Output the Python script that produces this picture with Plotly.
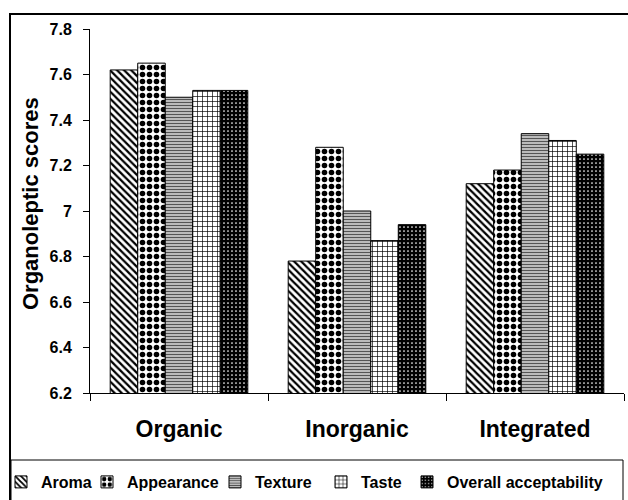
import plotly.graph_objects as go

categories = ["Organic", "Inorganic", "Integrated"]
series_names = ["Aroma", "Appearance", "Texture", "Taste", "Overall acceptability"]
aroma = [7.62, 6.78, 7.12]
appearance = [7.65, 7.28, 7.18]
texture = [7.50, 7.00, 7.34]
taste = [7.53, 6.87, 7.31]
overall = [7.53, 6.94, 7.25]
y_ticks = [6.2, 6.4, 6.6, 6.8, 7.0, 7.2, 7.4, 7.6, 7.8]
y_tick_labels = ["6.2", "6.4", "6.6", "6.8", "7", "7.2", "7.4", "7.6", "7.8"]

values = [aroma, appearance, texture, taste, overall]
patterns = [
    dict(shape="\\", fgcolor="black", bgcolor="white", size=5, solidity=0.45, fillmode="replace"),
    dict(shape=".", fgcolor="black", bgcolor="white", size=7, solidity=0.5, fillmode="replace"),
    dict(shape="-", fgcolor="#555555", bgcolor="#dddddd", size=3, solidity=0.5, fillmode="replace"),
    dict(shape="+", fgcolor="black", bgcolor="white", size=5, solidity=0.25, fillmode="replace"),
    dict(shape=".", fgcolor="white", bgcolor="black", size=4, solidity=0.15, fillmode="replace"),
]

FONT = "Liberation Sans, Arial, sans-serif"
W, H = 628, 500
L, R, T, B = 90, 4, 29, 107
pw, ph = W - L - R, H - T - B

def px_x(p):
    return (p - L) / pw

def px_y(p):
    return (H - B - p) / ph

legend_names = ["legend", "legend2", "legend3", "legend4", "legend5"]
legend_px = [1, 87, 215, 321, 407]

fig = go.Figure()
for i, (name, vals) in enumerate(zip(series_names, values)):
    fig.add_trace(go.Bar(
        name=name, x=categories, y=vals,
        marker=dict(color=patterns[i]["bgcolor"], pattern=patterns[i],
                    line=dict(color="black", width=1)),
        legend=legend_names[i],
    ))

layout_legends = {}
for i, ln in enumerate(legend_names):
    layout_legends[ln] = dict(
        x=px_x(legend_px[i]), xanchor="left", xref="paper",
        y=px_y(482), yanchor="middle", yref="paper",
        orientation="h", bgcolor="rgba(0,0,0,0)", borderwidth=0,
        font=dict(family=FONT, size=16, color="black", weight="bold"),
        itemwidth=30,
    )

fig.update_layout(
    width=W, height=H,
    margin=dict(l=L, r=R, t=T, b=B, autoexpand=False),
    paper_bgcolor="white", plot_bgcolor="white",
    barmode="group", bargap=0.227, bargroupgap=0,
    showlegend=True,
    font=dict(family=FONT, color="black"),
    xaxis=dict(
        showline=True, linecolor="black", linewidth=1,
        ticks="outside", tickson="boundaries", ticklen=7, tickcolor="black", tickwidth=1,
        tickfont=dict(family=FONT, size=23, color="black", weight="bold"),
        ticklabelstandoff=15,
        showgrid=False, zeroline=False,
    ),
    yaxis=dict(
        range=[6.2, 7.8], tickvals=y_ticks, ticktext=y_tick_labels,
        showline=True, linecolor="black", linewidth=1,
        ticks="outside", ticklen=6, tickcolor="black", tickwidth=1,
        tickfont=dict(family=FONT, size=16, color="black", weight="bold"),
        ticklabelstandoff=8,
        showgrid=False, zeroline=False,
    ),
    annotations=[dict(
        text="Organoleptic scores", textangle=-90,
        x=px_x(31), y=px_y(204), xref="paper", yref="paper",
        xanchor="center", yanchor="middle", showarrow=False,
        font=dict(family=FONT, size=22, color="black", weight="bold"),
    )],
    shapes=[
        dict(type="rect", xref="paper", yref="paper",
             x0=px_x(10), x1=px_x(640), y0=px_y(14), y1=px_y(520),
             line=dict(color="black", width=2), fillcolor="rgba(0,0,0,0)", layer="above"),
        dict(type="rect", xref="paper", yref="paper",
             x0=px_x(11), x1=px_x(623), y0=px_y(460), y1=px_y(520),
             line=dict(color="black", width=1), fillcolor="rgba(0,0,0,0)", layer="above"),
    ],
    **layout_legends,
)

fig.write_html("out.html", config={"displayModeBar": False},
               post_script="document.body.style.margin='0';")
